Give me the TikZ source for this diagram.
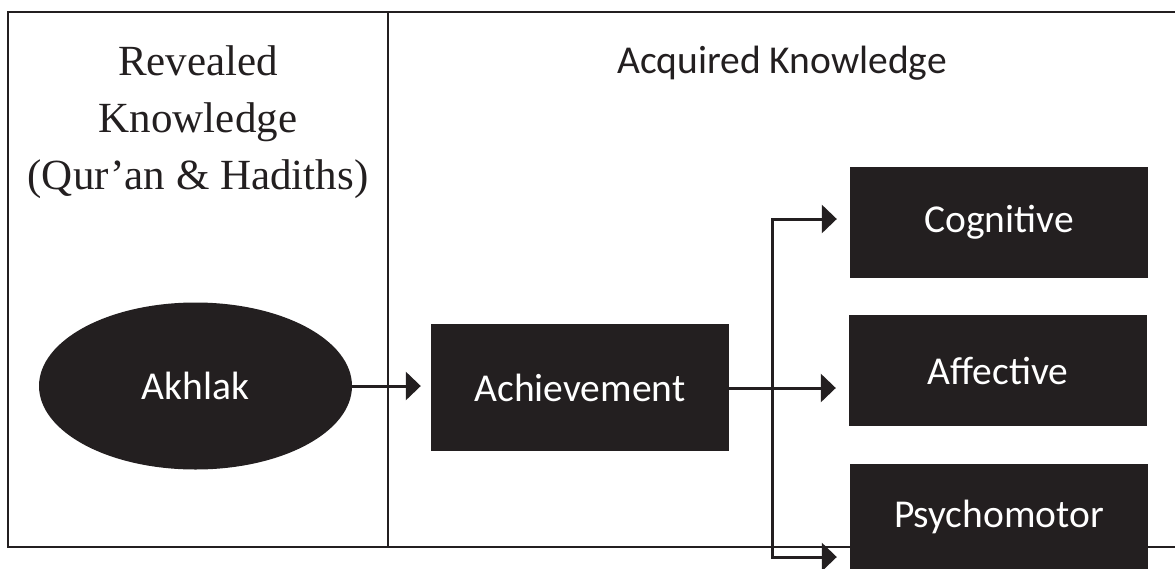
\documentclass[tikz,border=0pt]{standalone}
\usepackage{fontspec}
\setmainfont{Liberation Serif}
\newfontfamily\calib{Carlito}
\usetikzlibrary{arrows.meta,shapes.geometric}
\definecolor{ink}{HTML}{231F20}
\begin{document}
\begin{tikzpicture}[x=1pt,y=-1pt,
  frame/.style={draw=ink, line width=2pt},
  blk/.style={fill=ink, text=white, font=\calib\fontsize{39.5}{46}\selectfont, inner sep=0pt},
  wire/.style={draw=ink, line width=3pt},
  conn/.style={draw=ink, line width=3pt, -{Triangle[length=15pt,width=28pt]}}]
\useasboundingbox (0,0) rectangle (1175,568);
\clip (0,0) rectangle (1175,568);
% frame
\draw[frame] (1176,12) -- (8,12) -- (8,547) -- (1176,547);
\draw[frame] (388,12) -- (388,547);
% headings
\node[font=\fontsize{43}{57}\selectfont, text=ink, align=center, inner sep=0pt, anchor=north] (rev) at (198,45.5) {Revealed\\Knowledge\\(Qur’an \& Hadiths)};
\node[font=\calib\fontsize{39.5}{46}\selectfont, text=ink, inner sep=0pt, anchor=base] (acq) at (782,73) {Acquired Knowledge};
% nodes
\node[blk, ellipse, minimum width=313pt, minimum height=167pt] (akh) at (195.5,386) {Akhlak};
\node[blk, minimum width=298pt, minimum height=127pt] (ach) at (580,387.5) {Achievement};
\node[blk, minimum width=298pt, minimum height=111pt] (cog) at (999,222.5) {Cognitive};
\node[blk, minimum width=298pt, minimum height=111pt] (aff) at (998,370.5) {Affective};
\node[blk, minimum width=298pt, minimum height=111pt, text depth=0pt, text height=27pt] (psy) at (999,519.5) {\raisebox{6pt}{Psychomotor}};
% connectors
\coordinate (j) at (772,388);
\coordinate (tc) at (772,219);
\coordinate (tb) at (772,557);
\draw[conn, shorten >=10pt] (akh.east) -- (akh.east -| ach.west);
\draw[conn, shorten >=13pt] (ach.east |- j) -- (j -| aff.west);
\draw[conn, shorten >=13pt] (j) |- (tc -| cog.west);
\draw[conn, shorten >=13pt] (j) |- (tb -| psy.west);
\end{tikzpicture}
\end{document}
